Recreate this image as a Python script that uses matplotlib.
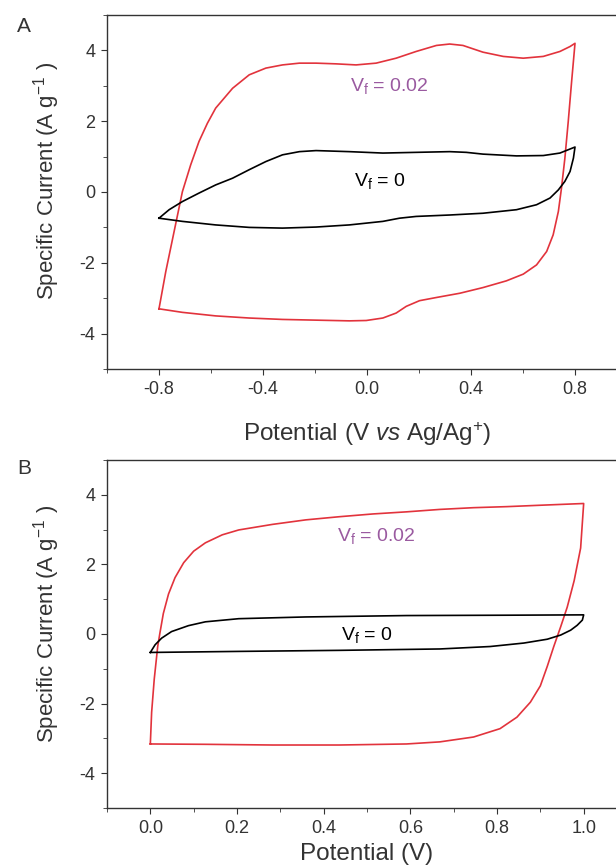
import numpy as np
import matplotlib.pyplot as plt
from matplotlib.ticker import MultipleLocator

plt.rcParams['font.family'] = ['Liberation Sans', 'DejaVu Sans']
plt.rcParams['mathtext.fontset'] = 'custom'
plt.rcParams['mathtext.rm'] = 'Liberation Sans'
plt.rcParams['mathtext.it'] = 'Liberation Sans:italic'
plt.rcParams['axes.unicode_minus'] = False

# Panel A: CV loops, potential (V vs Ag/Ag+) vs specific current (A/g)
a_red_x = [-0.800, -0.774, -0.742, -0.710, -0.678, -0.646, -0.614, -0.582, -0.517, -0.453,
           -0.389, -0.325, -0.260, -0.196, -0.119, -0.042, 0.035, 0.112, 0.189, 0.267,
           0.318, 0.369, 0.446, 0.524, 0.601, 0.678, 0.742, 0.781, 0.800,
           0.787, 0.774, 0.761, 0.748, 0.736, 0.716, 0.691, 0.652, 0.601, 0.536,
           0.446, 0.357, 0.267, 0.202, 0.151, 0.112, 0.061, -0.003, -0.068, -0.196,
           -0.325, -0.453, -0.582, -0.710, -0.800]
a_red_y = [-3.30, -2.25, -1.12, 0.01, 0.77, 1.43, 1.94, 2.37, 2.93, 3.31,
           3.50, 3.59, 3.64, 3.64, 3.62, 3.59, 3.64, 3.78, 3.97, 4.14,
           4.18, 4.14, 3.95, 3.83, 3.78, 3.83, 3.97, 4.11, 4.20,
           3.12, 1.99, 0.95, 0.11, -0.55, -1.21, -1.68, -2.06, -2.32, -2.51,
           -2.70, -2.86, -2.98, -3.07, -3.23, -3.42, -3.56, -3.63, -3.64, -3.62,
           -3.60, -3.56, -3.50, -3.40, -3.30]

a_blk_x = [-0.800, -0.761, -0.710, -0.646, -0.582, -0.517, -0.453, -0.389, -0.325, -0.260,
           -0.196, -0.068, 0.061, 0.189, 0.318, 0.382, 0.446, 0.575, 0.678, 0.742, 0.800,
           0.794, 0.781, 0.761, 0.736, 0.704, 0.652, 0.575, 0.446, 0.318, 0.189,
           0.125, 0.061, -0.068, -0.196, -0.325, -0.453, -0.582, -0.710, -0.800]
a_blk_y = [-0.74, -0.50, -0.27, -0.03, 0.20, 0.39, 0.63, 0.86, 1.05, 1.14,
           1.17, 1.14, 1.10, 1.12, 1.14, 1.12, 1.07, 1.02, 1.03, 1.10, 1.27,
           0.96, 0.58, 0.30, 0.06, -0.17, -0.36, -0.50, -0.60, -0.65, -0.69,
           -0.74, -0.83, -0.93, -0.99, -1.02, -1.00, -0.93, -0.83, -0.74]

# Panel B: CV loops, potential (V)
b_red_x = [0.000, 0.003, 0.009, 0.017, 0.022, 0.030, 0.042, 0.057, 0.077, 0.100,
           0.127, 0.166, 0.204, 0.282, 0.359, 0.436, 0.514, 0.591, 0.668, 0.746,
           0.823, 0.900, 1.000,
           0.993, 0.978, 0.962, 0.947, 0.931, 0.916, 0.900, 0.877, 0.846, 0.807,
           0.746, 0.668, 0.591, 0.436, 0.282, 0.127, 0.000]
b_red_y = [-3.16, -2.25, -1.30, -0.36, 0.02, 0.59, 1.15, 1.62, 2.05, 2.38,
           2.62, 2.85, 2.99, 3.15, 3.28, 3.37, 3.45, 3.51, 3.58, 3.63,
           3.66, 3.70, 3.75,
           2.47, 1.53, 0.77, 0.21, -0.36, -0.93, -1.49, -1.96, -2.39, -2.72,
           -2.96, -3.10, -3.16, -3.19, -3.19, -3.17, -3.16]

b_blk_x = [0.000, 0.011, 0.026, 0.049, 0.088, 0.127, 0.204, 0.359, 0.591, 0.823, 1.000,
           0.997, 0.985, 0.970, 0.947, 0.916, 0.862, 0.784, 0.668, 0.436, 0.204, 0.000]
b_blk_y = [-0.53, -0.31, -0.12, 0.07, 0.24, 0.35, 0.44, 0.49, 0.53, 0.54, 0.55,
           0.40, 0.25, 0.11, -0.03, -0.15, -0.26, -0.36, -0.43, -0.47, -0.50, -0.53]

red = '#e2333c'
purple = '#9a5aa0'
grey = '#333333'

fig = plt.figure(figsize=(6.16, 8.68), dpi=100)
axA = fig.add_axes([107/616, 1 - 369/868, 520/616, 354/868])
axB = fig.add_axes([107/616, 1 - 808/868, 520/616, 348/868])


def style(ax):
    for s in ['left', 'bottom', 'top', 'right']:
        ax.spines[s].set_color(grey)
        ax.spines[s].set_linewidth(1.0)
    ax.tick_params(which='both', direction='out', colors=grey, labelsize=13,
                   top=False, right=False, pad=4)
    ax.tick_params(which='major', length=4.5)
    ax.tick_params(which='minor', length=3)
    ax.set_ylim(-5, 5)
    ax.yaxis.set_major_locator(MultipleLocator(2))
    ax.yaxis.set_minor_locator(MultipleLocator(1))
    ax.set_ylabel('Specific Current (A g$^{\\mathregular{-1}}$ )', fontsize=16,
                  color=grey)
    ax.yaxis.set_label_coords(-45/520, 0.53)


axA.plot(a_red_x, a_red_y, color=red, lw=1.2)
axA.plot(a_blk_x, a_blk_y, color='black', lw=1.2)
axA.set_xlim(-1.0, 1.0)
axA.set_xticks([-0.8, -0.4, 0.0, 0.4, 0.8])
axA.set_xticklabels(['-0.8', '-0.4', '0.0', '0.4', '0.8'])
axA.xaxis.set_minor_locator(MultipleLocator(0.2))
style(axA)
axA.set_xlabel('Potential (V $\\mathit{vs}$ Ag/Ag$^{\\mathregular{+}}$)',
               fontsize=17.5, color=grey, labelpad=16)
axA.text(0.084, 2.86, 'V$_{\\mathregular{f}}$ = 0.02', color=purple, fontsize=14,
         ha='center', va='baseline')
axA.text(0.048, 0.16, 'V$_{\\mathregular{f}}$ = 0', color='black', fontsize=14,
         ha='center', va='baseline')

axB.plot(b_red_x, b_red_y, color=red, lw=1.2)
axB.plot(b_blk_x, b_blk_y, color='black', lw=1.2)
axB.set_xlim(-0.1, 1.1)
axB.set_xticks([0.0, 0.2, 0.4, 0.6, 0.8, 1.0])
axB.xaxis.set_minor_locator(MultipleLocator(0.1))
style(axB)
axB.set_xlabel('Potential (V)', fontsize=17.5, color=grey, labelpad=4.5)
axB.text(0.521, 2.66, 'V$_{\\mathregular{f}}$ = 0.02', color=purple, fontsize=14,
         ha='center', va='baseline')
axB.text(0.499, -0.17, 'V$_{\\mathregular{f}}$ = 0', color='black', fontsize=14,
         ha='center', va='baseline')

fig.text(24/616, 1 - 27/868, 'A', fontsize=15, color=grey, ha='center', va='center')
fig.text(24/616, 1 - 468/868, 'B', fontsize=15, color=grey, ha='center', va='center')

fig.savefig('out.png', dpi=100)
